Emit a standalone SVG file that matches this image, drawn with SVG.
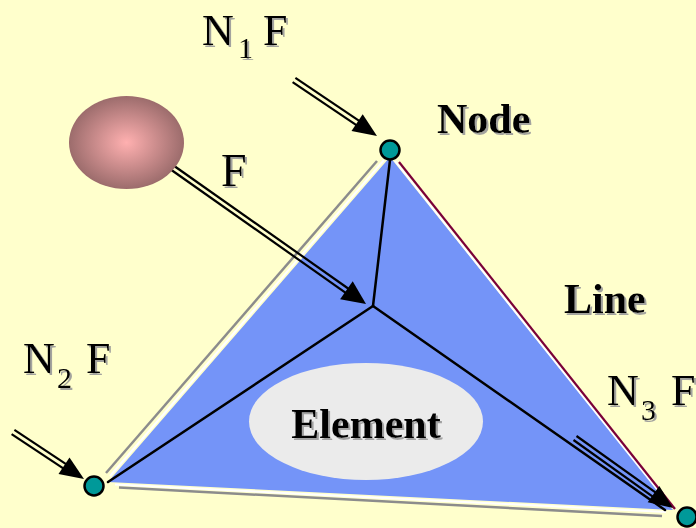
<svg xmlns="http://www.w3.org/2000/svg" width="696" height="528" viewBox="0 0 696 528">
<defs>
<radialGradient id="ballGrad" cx="0.5" cy="0.5" r="0.5">
<stop offset="0" stop-color="#FFB0B0"/>
<stop offset="1" stop-color="#9C6C6C"/>
</radialGradient>
<filter id="shadow" x="-10%" y="-10%" width="130%" height="140%">
<feDropShadow dx="2" dy="2" stdDeviation="0.6" flood-color="#999999" flood-opacity="0.9"/>
</filter>
<style>
.t{font-family:"Liberation Serif","Times New Roman",serif;fill:#000;filter:url(#shadow)}
.b{font-weight:bold}
.big{font-size:44px}
.sub{font-size:30px}
.arr{stroke:#000;stroke-width:2.2;fill:none}
.head{fill:#000}
.inner{stroke:#000;stroke-width:2.5;fill:none;stroke-linecap:round}
.node{fill:#009999;stroke:#000;stroke-width:2.5}
</style>
</defs>
<rect x="0" y="0" width="696" height="528" fill="#FFFFCC"/>

<g id="element-triangle">
<polygon points="390,157 108,482 673,510" fill="#7494F8"/>
<line x1="384" y1="160" x2="110" y2="476" stroke="#FFFFFF" stroke-width="2"/>
<line x1="377" y1="161" x2="106" y2="473" stroke="#8C8C8C" stroke-width="2.5"/>
<line x1="115" y1="484.5" x2="666" y2="512" stroke="#FFFFFF" stroke-width="2"/>
<line x1="119" y1="487.5" x2="662" y2="516" stroke="#8C8C8C" stroke-width="2.5"/>
<line x1="395" y1="161" x2="672" y2="508" stroke="#FFFFFF" stroke-width="2"/>
<line x1="399" y1="162" x2="675" y2="509" stroke="#7A0038" stroke-width="2.2"/>
</g>

<g id="element">
<ellipse cx="366" cy="421.5" rx="117" ry="58.5" fill="#EBEBEB"/>
<text class="t b" x="366" y="438" font-size="42" text-anchor="middle">Element</text>
</g>

<g id="connectors">
<line class="inner" x1="390" y1="160" x2="373" y2="306"/>
<line class="inner" x1="373" y1="306" x2="108" y2="482"/>
<line class="inner" x1="373" y1="306" x2="665" y2="510"/>
<line class="arr" x1="292.6" y1="82.1" x2="359.0" y2="126.9"/>
<line class="arr" x1="295.4" y1="77.9" x2="361.8" y2="122.7"/>
<polygon class="head" points="377,136 351.5,130.9 362.7,114.3"/>
<line class="arr" x1="11.6" y1="434.1" x2="65.9" y2="470.1"/>
<line class="arr" x1="14.4" y1="429.9" x2="68.7" y2="465.9"/>
<polygon class="head" points="84,479 58.5,474.1 69.5,457.5"/>
<line class="arr" x1="168.6" y1="168.0" x2="348.2" y2="294.6"/>
<line class="arr" x1="171.4" y1="164.0" x2="351.0" y2="290.5"/>
<polygon class="head" points="366,304 340.1,299.2 352.7,281.2"/>
<line class="arr" x1="573.5" y1="440.0" x2="655.2" y2="498.4"/>
<line class="arr" x1="576.5" y1="436.0" x2="658.2" y2="494.4"/>
<polygon class="head" points="673,508 647.7,502.2 659.3,486.0"/>
</g>

<g id="load">
<ellipse cx="126.5" cy="142.5" rx="57.5" ry="46.5" fill="url(#ballGrad)"/>
</g>

<g id="node1">
<circle class="node" cx="390" cy="150" r="9.5"/>
</g>
<g id="node2">
<circle class="node" cx="94" cy="486" r="9.5"/>
</g>
<g id="node3">
<circle class="node" cx="687" cy="517" r="9.5"/>
</g>

<g id="labels">
<text class="t big" x="202" y="45">N</text>
<text class="t sub" x="238" y="58">1</text>
<text class="t big" x="263" y="45">F</text>

<text class="t big" x="23" y="373">N</text>
<text class="t sub" x="57" y="388">2</text>
<text class="t big" x="86" y="373">F</text>

<text class="t big" x="607" y="405">N</text>
<text class="t sub" x="641" y="420">3</text>
<text class="t big" x="671" y="405">F</text>

<text class="t" x="221" y="186" font-size="46">F</text>

<text class="t b" x="437" y="133" font-size="42">Node</text>

<text class="t b" x="564" y="313" font-size="42">Line</text>
</g>
</svg>
